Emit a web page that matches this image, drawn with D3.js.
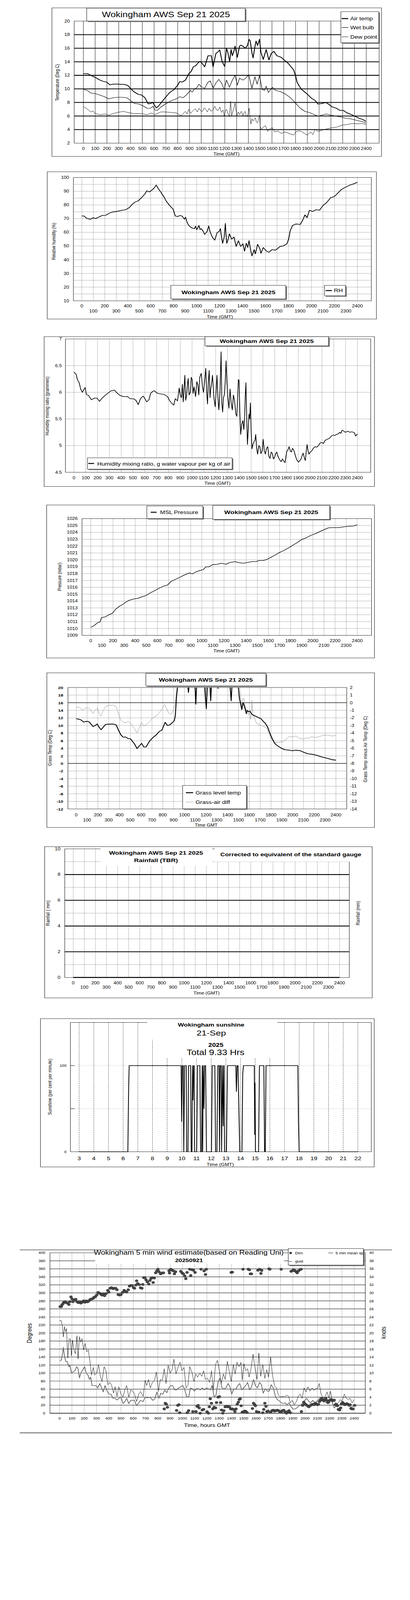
<!DOCTYPE html>
<html><head><meta charset="utf-8">
<script src="https://cdn.jsdelivr.net/npm/d3@7"></script>
<style>html,body{margin:0;padding:0;background:#fff;overflow:hidden}svg{display:block}text{font-family:"Liberation Sans",Arial,Helvetica,sans-serif}</style>
</head><body>
<script>
// ---------------- DATA ----------------
const titleText = "Wokingham AWS Sep 21 2025";
const timeTicks = [0,100,200,300,400,500,600,700,800,900,1000,1100,1200,1300,1400,1500,1600,1700,1800,1900,2000,2100,2200,2300,2400];
const tempTicks = [2,4,6,8,10,12,14,16,18,20];
const rhTicks = [10,20,30,40,50,60,70,80,90,100];
const mixTicks = [4.5,5,5.5,6,6.5,7];
const presTicks = [1009,1010,1011,1012,1013,1014,1015,1016,1017,1018,1019,1020,1021,1022,1023,1024,1025,1026];
const grassTicks = [-12,-10,-8,-6,-4,-2,0,2,4,6,8,10,12,14,16,18,20];
const diffTicks = [-14,-13,-12,-11,-10,-9,-8,-7,-6,-5,-4,-3,-2,-1,0,1,2];
const rainTicks = [0,2,4,6,8,10];
const sunHours = [3,4,5,6,7,8,9,10,11,12,13,14,15,16,17,18,19,20,21,22];
const windDegTicks = [0,20,40,60,80,100,120,140,160,180,200,220,240,260,280,300,320,340,360,380,400];
const knotTicks = [0,2,4,6,8,10,12,14,16,18,20,22,24,26,28,30,32,34,36,38,40];

const airTemp = [[0,12.25],[35,12.25],[63,12.0],[100,11.7],[140,11.3],[170,11.1],[197,11.0],[225,10.6],[255,10.7],[293,10.7],[350,10.65],[378,10.5],[398,10.1],[427,9.6],[465,9.2],[493,9.1],[522,8.7],[550,7.8],[570,7.85],[589,8.0],[618,7.2],[637,7.45],[665,8.07],[694,8.7],[732,9.47],[771,9.93],[800,10.55],[818,11.1],[838,11.0],[866,11.3],[895,12.25],[914,12.56],[933,13.26],[952,13.4],[971,13.8],[990,14.08],[1010,13.7],[1029,13.26],[1058,14.9],[1086,14.9],[1100,13.26],[1124,15.2],[1144,15.5],[1157,15.75],[1176,14.1],[1199,13.3],[1214,16.0],[1226,15.35],[1241,14.03],[1253,15.8],[1264,14.9],[1276,15.5],[1287,16.3],[1306,14.65],[1325,16.3],[1335,16.45],[1354,16.3],[1373,16.0],[1392,16.4],[1406,17.3],[1415,17.1],[1430,15.35],[1440,14.57],[1455,16.2],[1465,17.05],[1478,16.4],[1494,17.3],[1507,15.35],[1526,14.35],[1551,15.8],[1574,14.27],[1593,15.2],[1616,15.54],[1641,14.9],[1679,14.65],[1708,14.2],[1736,13.8],[1765,13.2],[1784,12.8],[1800,11.95],[1813,11.0],[1832,10.4],[1851,9.93],[1899,9.23],[1937,8.6],[1966,8.3],[1991,7.76],[2023,7.85],[2056,8.0],[2080,7.76],[2109,7.37],[2147,7.14],[2176,6.83],[2205,6.83],[2233,6.5],[2262,6.3],[2300,6.0],[2339,5.67],[2377,5.44],[2396,5.2]];
const wetBulb = [[0,9.93],[34,9.78],[63,9.4],[101,9.3],[140,9.1],[178,8.85],[216,8.54],[254,8.7],[293,8.77],[331,8.77],[369,8.7],[398,8.3],[436,7.84],[474,7.76],[503,7.53],[541,7.14],[570,7.14],[589,7.45],[608,6.9],[627,6.83],[656,7.3],[694,7.76],[742,8.23],[790,8.54],[818,8.85],[847,8.7],[876,9.15],[908,9.78],[924,9.54],[943,10.0],[962,10.16],[981,10.7],[1000,10.3],[1029,10.1],[1058,11.0],[1077,11.17],[1100,10.1],[1124,10.86],[1149,11.4],[1172,10.86],[1195,9.93],[1214,11.3],[1239,10.24],[1264,11.3],[1287,12.0],[1306,10.55],[1325,11.6],[1354,11.3],[1379,11.6],[1402,12.1],[1430,10.1],[1455,11.8],[1474,10.7],[1494,11.95],[1517,9.93],[1536,9.78],[1551,10.4],[1570,9.47],[1603,10.24],[1631,9.78],[1669,9.62],[1708,9.3],[1746,8.85],[1775,8.38],[1803,7.84],[1841,7.14],[1880,6.68],[1918,6.52],[1947,6.3],[1966,6.13],[1995,5.98],[2023,6.13],[2061,6.3],[2099,6.13],[2147,5.98],[2195,5.82],[2224,5.67],[2262,5.6],[2300,5.44],[2339,5.28],[2377,5.13],[2396,4.97]];
const dewPoint = [[0,7.37],[25,7.14],[63,6.6],[82,6.75],[101,6.37],[140,6.2],[187,6.3],[216,6.13],[254,6.37],[293,6.55],[340,6.68],[378,6.52],[427,6.37],[484,6.37],[541,6.2],[580,6.45],[608,6.2],[656,6.6],[694,6.6],[751,6.52],[790,6.45],[828,6.06],[866,6.68],[880,6.3],[895,7.0],[910,6.4],[924,6.68],[938,6.9],[952,7.06],[966,6.6],[981,7.14],[995,6.8],[1010,6.68],[1024,7.2],[1038,7.0],[1052,6.6],[1067,7.14],[1082,6.7],[1096,6.83],[1115,7.45],[1130,6.9],[1144,6.83],[1158,7.3],[1172,6.52],[1185,6.9],[1195,6.06],[1205,6.8],[1214,7.0],[1226,6.4],[1239,5.9],[1249,8.2],[1258,6.06],[1268,6.7],[1277,7.14],[1287,7.9],[1302,6.06],[1314,6.6],[1325,6.2],[1340,6.7],[1354,6.06],[1364,6.5],[1373,6.68],[1382,6.0],[1392,5.9],[1400,6.5],[1406,7.14],[1413,5.8],[1421,4.82],[1430,5.6],[1440,5.28],[1450,5.5],[1459,5.75],[1468,5.1],[1478,4.97],[1486,5.6],[1494,6.13],[1500,4.6],[1507,4.04],[1526,4.35],[1545,4.59],[1564,3.73],[1583,4.12],[1603,4.28],[1622,3.66],[1650,3.81],[1679,3.42],[1708,3.66],[1727,3.58],[1756,3.35],[1784,3.2],[1803,3.66],[1822,3.81],[1851,3.73],[1876,3.42],[1899,3.2],[1928,3.66],[1947,3.27],[1966,4.04],[1995,3.73],[2033,3.97],[2071,4.12],[2109,4.28],[2147,4.35],[2195,4.66],[2233,4.74],[2281,4.9],[2329,4.85],[2367,4.9],[2396,4.74]];

const relHum = [[0,72.0],[20,71.9],[39,70.4],[59,69.8],[78,69.6],[98,70.7],[118,70.0],[137,70.7],[177,72.3],[206,72.4],[235,73.8],[265,74.8],[304,75.3],[353,76.1],[383,76.5],[412,78.0],[442,80.7],[461,82.0],[491,83.0],[520,85.3],[549,88.0],[565,90.3],[589,89.5],[608,90.7],[628,92.2],[648,94.5],[667,91.8],[687,89.5],[716,85.7],[736,82.6],[765,79.6],[795,76.9],[814,71.9],[834,71.5],[854,72.3],[873,71.9],[893,69.6],[903,71.1],[918,66.9],[932,65.0],[952,63.5],[966,63.0],[981,62.7],[990,64.5],[1001,61.9],[1020,65.0],[1030,62.0],[1040,62.7],[1055,61.0],[1069,58.5],[1089,60.4],[1105,64.6],[1115,61.0],[1128,58.1],[1140,56.0],[1158,54.3],[1177,59.6],[1197,60.8],[1207,62.7],[1216,57.0],[1226,52.0],[1240,56.6],[1250,66.5],[1256,58.0],[1262,52.0],[1275,55.0],[1285,58.9],[1305,55.0],[1325,56.6],[1344,49.7],[1364,53.9],[1383,49.7],[1403,51.6],[1417,46.2],[1432,52.0],[1445,49.0],[1456,53.9],[1472,46.2],[1482,42.8],[1501,47.4],[1511,44.3],[1531,51.2],[1550,48.1],[1560,44.7],[1580,48.9],[1609,46.2],[1629,45.5],[1658,47.4],[1687,47.0],[1727,49.7],[1756,50.1],[1786,51.6],[1801,55.0],[1815,61.2],[1835,65.0],[1864,66.1],[1903,65.8],[1923,68.8],[1943,72.7],[1962,70.7],[1982,76.1],[2011,75.3],[2041,76.5],[2070,76.1],[2100,79.6],[2129,81.5],[2168,85.3],[2198,86.1],[2227,88.4],[2257,91.0],[2296,93.0],[2335,94.5],[2374,95.6],[2400,96.6]];

const mixRatio = [[0,6.38],[10,6.355],[19,6.335],[29,6.24],[44,6.18],[57,6.06],[71,6.0],[86,6.06],[95,6.09],[105,5.96],[124,5.94],[147,5.86],[172,5.89],[196,5.89],[216,5.83],[238,5.89],[258,5.93],[286,5.98],[315,6.03],[343,6.04],[368,5.98],[391,5.94],[420,5.92],[452,5.92],[477,5.88],[506,5.88],[528,5.84],[544,5.77],[563,5.88],[586,5.93],[601,5.88],[616,5.82],[635,5.86],[649,5.98],[668,6.02],[681,6.03],[706,5.98],[734,5.97],[763,5.96],[792,5.92],[811,5.84],[830,5.79],[845,5.76],[858,5.88],[877,5.84],[891,6.08],[900,5.95],[910,5.9],[918,6.15],[925,5.82],[939,6.32],[946,5.85],[954,5.94],[960,6.12],[967,6.26],[975,5.95],[986,6.0],[993,6.28],[1001,6.24],[1009,5.98],[1017,6.1],[1030,5.92],[1040,6.2],[1049,6.14],[1057,5.95],[1065,6.28],[1078,6.355],[1088,6.1],[1097,6.0],[1106,6.2],[1116,6.45],[1124,6.0],[1131,5.78],[1138,6.2],[1145,6.41],[1152,5.9],[1158,6.06],[1165,6.15],[1173,6.32],[1185,5.9],[1196,5.73],[1203,6.0],[1211,6.32],[1219,5.9],[1227,5.67],[1236,6.0],[1246,6.76],[1252,5.8],[1259,5.63],[1266,5.9],[1274,5.96],[1281,6.2],[1288,6.59],[1295,6.2],[1303,5.9],[1312,5.7],[1322,6.06],[1331,5.8],[1341,5.67],[1350,5.95],[1360,5.84],[1370,5.6],[1379,5.55],[1386,5.9],[1392,6.24],[1398,6.22],[1405,5.6],[1412,5.21],[1420,5.4],[1431,5.47],[1438,5.3],[1444,5.47],[1450,5.9],[1456,6.18],[1462,5.6],[1469,5.02],[1476,5.3],[1482,5.59],[1488,5.5],[1494,5.8],[1500,5.3],[1507,4.94],[1515,5.02],[1526,5.08],[1533,5.1],[1539,5.21],[1547,4.95],[1555,4.84],[1565,5.0],[1574,4.98],[1583,4.85],[1593,4.9],[1602,5.12],[1612,4.9],[1621,4.84],[1631,4.95],[1641,4.98],[1650,4.8],[1660,4.76],[1670,4.88],[1679,4.86],[1689,4.75],[1698,4.78],[1708,4.85],[1717,4.88],[1727,4.8],[1736,4.76],[1746,4.72],[1755,4.7],[1765,4.75],[1774,4.72],[1787,4.68],[1795,4.8],[1803,4.9],[1812,4.92],[1822,4.98],[1832,4.9],[1841,4.88],[1850,4.95],[1860,4.92],[1870,4.85],[1879,4.78],[1890,4.72],[1902,4.69],[1912,4.72],[1921,4.74],[1930,4.8],[1940,4.86],[1950,4.78],[1959,4.72],[1967,4.9],[1974,5.02],[1982,4.9],[1990,4.84],[2000,4.88],[2013,4.9],[2027,4.95],[2041,4.98],[2055,4.97],[2070,5.0],[2084,5.05],[2098,5.06],[2112,5.04],[2127,5.1],[2146,5.12],[2165,5.14],[2180,5.18],[2194,5.2],[2208,5.19],[2223,5.21],[2237,5.22],[2251,5.25],[2260,5.23],[2270,5.29],[2285,5.27],[2299,5.25],[2318,5.27],[2337,5.25],[2352,5.26],[2366,5.25],[2375,5.24],[2385,5.18],[2393,5.2],[2400,5.22]];

const mslPressure = [[0,1010.17],[35,1010.48],[57,1010.8],[82,1010.94],[97,1011.6],[132,1011.7],[162,1012.0],[193,1012.2],[223,1012.8],[264,1013.3],[294,1013.55],[315,1013.85],[345,1014.1],[386,1014.3],[426,1014.4],[457,1014.6],[497,1014.8],[538,1015.2],[579,1015.55],[619,1015.9],[660,1016.2],[690,1016.3],[721,1016.84],[761,1017.15],[802,1017.45],[843,1017.8],[889,1018.1],[914,1017.95],[954,1018.3],[995,1018.5],[1015,1018.6],[1036,1018.98],[1066,1018.98],[1096,1019.3],[1137,1019.35],[1178,1019.5],[1218,1019.35],[1249,1019.6],[1300,1019.75],[1330,1019.6],[1371,1019.5],[1411,1019.6],[1452,1019.75],[1492,1019.75],[1513,1019.9],[1553,1019.9],[1584,1020.05],[1614,1020.3],[1655,1020.65],[1695,1021.04],[1736,1021.35],[1777,1021.7],[1817,1022.1],[1858,1022.5],[1898,1022.95],[1939,1023.2],[1980,1023.55],[2020,1023.8],[2061,1024.1],[2101,1024.4],[2142,1024.67],[2183,1024.7],[2234,1024.7],[2274,1024.8],[2325,1024.9],[2366,1024.92],[2400,1025.1]];

const grassTemp = [[0,11.79],[21,11.65],[42,11.5],[69,10.9],[94,11.1],[119,10.96],[139,10.27],[156,9.71],[177,10.0],[194,10.4],[214,9.44],[231,8.88],[250,9.57],[271,10.27],[302,10.35],[343,10.35],[368,10.18],[389,8.88],[410,7.64],[431,6.95],[458,6.95],[479,6.53],[500,6.53],[520,5.84],[541,5.01],[562,3.9],[583,4.6],[604,5.29],[625,4.32],[645,4.32],[677,5.84],[708,6.8],[739,7.5],[770,8.47],[791,8.74],[822,10.82],[843,10.0],[864,10.13],[885,10.68],[906,11.23],[916,12.6],[926,17.3],[937,20.5],[945,23],[1025,23],[1032,20.2],[1037,18.7],[1042,20.2],[1050,23],[1095,22],[1100,19],[1105,15.6],[1110,19],[1118,23],[1185,22],[1195,17],[1202,14.4],[1208,18],[1215,23],[1235,21],[1243,16.5],[1250,21],[1258,24],[1305,20.5],[1311,19.8],[1317,20.5],[1330,24],[1420,21],[1432,16.5],[1440,21],[1450,24],[1495,21],[1510,17],[1530,14.2],[1542,16],[1551,15.4],[1560,14.5],[1572,13.1],[1580,14.0],[1592,13.6],[1605,13.8],[1613,13.4],[1625,12.9],[1634,12.76],[1655,12.48],[1686,12.06],[1707,11.79],[1728,11.1],[1748,10.54],[1769,9.57],[1790,7.92],[1811,6.53],[1838,5.15],[1863,4.6],[1894,4.04],[1925,3.63],[1967,3.49],[1998,3.35],[2029,3.49],[2071,3.35],[2102,2.94],[2144,2.52],[2186,2.38],[2227,2.1],[2269,1.69],[2311,1.41],[2363,0.99],[2400,0.86]];
const grassAirDiff = [[0,-0.58],[31,-0.65],[62,-1.0],[83,-0.72],[110,-0.65],[135,-1.0],[156,-1.42],[177,-0.93],[194,-0.72],[208,-1.27],[229,-1.76],[250,-1.0],[271,-0.52],[302,-0.33],[343,-0.33],[368,-0.52],[389,-1.42],[410,-2.25],[431,-2.52],[458,-2.66],[479,-2.45],[500,-2.66],[520,-3.07],[541,-3.49],[562,-3.97],[583,-3.35],[604,-2.59],[625,-3.07],[645,-2.93],[677,-2.52],[708,-1.97],[739,-1.76],[770,-1.27],[797,-0.72],[818,-0.24],[833,-0.72],[854,-1.35],[874,-1.55],[895,-1.14],[916,-0.03],[930,1.75],[937,2.2],[950,3],[1170,3],[1185,1.5],[1192,0.3],[1198,1.5],[1210,3],[1500,3],[1520,1.0],[1530,-0.5],[1540,0.5],[1550,0.6],[1560,-0.3],[1572,-1.0],[1590,-1.6],[1603,-1.25],[1613,-2.2],[1620,-1.0],[1624,0.3],[1630,-0.9],[1634,-1.5],[1645,-1.97],[1665,-2.66],[1707,-3.0],[1738,-3.15],[1759,-3.35],[1780,-4.04],[1801,-4.8],[1832,-5.29],[1863,-5.22],[1905,-5.15],[1936,-4.87],[1967,-4.46],[1998,-4.53],[2029,-4.39],[2061,-4.67],[2092,-4.8],[2123,-4.67],[2154,-4.67],[2175,-4.46],[2206,-4.6],[2248,-4.46],[2279,-4.32],[2321,-4.25],[2363,-4.39],[2400,-4.32]];

const rainfall = [[0,0],[100,0],[200,0],[300,0],[400,0],[500,0],[600,0],[700,0],[800,0],[900,0],[1000,0],[1100,0],[1200,0],[1300,0],[1400,0],[1500,0],[1600,0],[1700,0],[1800,0],[1900,0],[2000,0],[2100,0],[2200,0],[2300,0],[2400,0]];

const sunshine = [[3,0],[6.32,0],[6.37,70],[6.41,100],[9.95,100],[9.99,35],[10.04,100],[10.1,100],[10.13,0],[10.19,100],[10.3,100],[10.33,0],[10.42,0],[10.46,100],[10.6,100],[10.64,0],[10.69,0],[10.73,100],[10.76,60],[10.81,100],[10.84,100],[10.87,0],[11.01,0],[11.07,100],[11.23,100],[11.28,0],[11.35,0],[11.39,100],[11.42,0],[11.46,100],[11.51,50],[11.55,100],[11.62,100],[11.68,0],[12.02,0],[12.07,100],[12.25,100],[12.3,0],[12.39,0],[12.45,100],[12.54,100],[12.57,0],[12.61,100],[12.68,100],[12.71,0],[12.77,100],[12.82,30],[12.86,100],[12.88,100],[12.91,0],[13.04,0],[13.11,100],[13.68,100],[13.72,70],[13.77,100],[13.83,100],[13.9,40],[13.95,0],[14.1,0],[14.15,90],[14.2,100],[14.94,100],[14.97,20],[14.99,80],[15.02,0],[15.23,0],[15.29,100],[15.59,100],[15.64,0],[15.69,0],[15.74,100],[17.91,100],[17.95,35],[18.0,0],[22,0]];

const windGust = [[0,23.1],[13,23.1],[21,21.9],[30,19.0],[39,21.6],[47,20.3],[56,21.1],[66,13.7],[77,18.5],[88,18.5],[96,14.3],[105,18.2],[116,15.8],[128,14.8],[141,19.3],[150,13.5],[161,19.1],[171,17.7],[182,18.6],[195,15.8],[208,17.4],[220,15.3],[233,15.8],[246,13.2],[259,9.5],[274,11.4],[285,9.5],[302,10.0],[317,12.1],[332,9.2],[345,7.9],[362,11.6],[377,10.6],[392,7.1],[409,7.7],[424,6.9],[439,5.0],[452,6.6],[467,4.2],[482,6.6],[499,4.75],[516,4.0],[531,5.8],[546,6.9],[563,4.0],[580,5.8],[595,5.5],[610,4.75],[627,2.9],[644,4.75],[659,5.4],[681,4.2],[696,8.2],[709,6.9],[724,8.4],[739,6.3],[756,7.7],[773,8.2],[788,10.3],[805,5.5],[820,8.4],[837,8.2],[852,11.1],[867,7.4],[884,11.9],[901,10.0],[916,10.8],[931,13.5],[948,9.8],[966,11.6],[981,12.7],[996,10.6],[1013,11.4],[1030,6.3],[1045,6.9],[1060,11.6],[1077,10.3],[1094,7.9],[1109,9.8],[1124,9.0],[1141,10.0],[1158,9.2],[1173,10.6],[1188,8.4],[1205,8.7],[1222,7.7],[1237,10.6],[1252,5.8],[1270,12.1],[1285,13.2],[1302,10.6],[1317,7.4],[1334,9.8],[1349,8.4],[1366,12.9],[1381,10.6],[1398,7.9],[1415,12.1],[1430,9.8],[1445,12.7],[1462,11.6],[1477,12.7],[1488,8.2],[1501,12.4],[1516,10.6],[1531,11.1],[1544,9.0],[1559,11.1],[1576,14.7],[1591,11.4],[1608,8.4],[1623,15.0],[1638,9.2],[1655,12.1],[1672,8.7],[1687,10.8],[1702,9.0],[1719,14.0],[1734,9.5],[1751,6.9],[1766,6.3],[1783,4.5],[1800,4.0],[1815,4.2],[1830,4.0],[1848,4.5],[1865,4.2],[1880,2.6],[1895,3.2],[1912,2.1],[1929,2.9],[1944,4.2],[1959,4.75],[1976,3.7],[1991,6.3],[2008,5.3],[2023,6.6],[2040,5.5],[2057,6.3],[2072,5.7],[2087,6.1],[2104,6.3],[2115,7.4],[2130,4.75],[2147,3.7],[2164,4.2],[2179,5.3],[2194,3.7],[2207,5.5],[2222,2.6],[2237,3.2],[2254,2.1],[2271,2.6],[2286,3.4],[2301,2.9],[2319,4.75],[2336,3.7],[2351,3.4],[2366,3.7],[2383,2.6],[2400,3.4]];
const windMean = [[0,13.1],[13,13.2],[24,15.0],[30,16.4],[39,14.3],[49,12.9],[62,12.9],[75,11.6],[84,11.9],[96,10.0],[109,10.3],[124,10.6],[139,11.6],[150,11.1],[161,8.8],[173,10.0],[188,10.8],[203,11.6],[216,10.0],[231,9.5],[242,8.4],[253,9.0],[263,6.9],[278,6.9],[295,6.9],[310,6.3],[327,7.4],[342,6.3],[355,5.3],[370,6.9],[387,5.5],[402,4.75],[418,4.75],[435,3.7],[450,3.7],[467,3.3],[482,3.7],[499,4.0],[516,2.4],[531,2.9],[546,3.7],[563,2.4],[578,3.2],[595,3.2],[610,3.2],[627,1.85],[644,2.6],[659,3.2],[681,2.9],[696,4.0],[713,3.8],[730,4.0],[745,3.7],[760,3.2],[777,3.7],[792,5.3],[809,3.7],[824,5.0],[841,4.75],[856,5.8],[873,5.1],[888,6.2],[905,6.9],[920,6.9],[938,5.8],[953,5.8],[970,6.3],[987,6.6],[1002,6.9],[1017,6.1],[1034,4.2],[1051,4.0],[1066,6.3],[1081,6.1],[1098,5.5],[1115,6.1],[1130,6.1],[1145,5.8],[1162,6.3],[1179,5.8],[1195,6.3],[1212,6.1],[1227,5.8],[1242,6.9],[1259,4.0],[1274,4.5],[1291,7.9],[1306,8.7],[1323,6.3],[1338,6.1],[1355,6.3],[1372,7.4],[1387,6.6],[1402,4.75],[1419,6.1],[1434,5.9],[1452,6.9],[1467,7.4],[1484,5.8],[1499,6.3],[1516,6.9],[1531,7.7],[1548,5.8],[1563,6.6],[1580,8.4],[1595,6.9],[1612,6.3],[1629,7.7],[1644,7.1],[1659,5.0],[1676,6.1],[1693,5.5],[1708,5.5],[1723,7.1],[1741,6.3],[1758,4.2],[1773,3.4],[1788,3.1],[1805,2.6],[1822,2.4],[1837,2.6],[1852,2.1],[1869,2.6],[1886,1.6],[1901,1.05],[1916,1.05],[1933,1.3],[1950,1.85],[1965,2.1],[1980,2.4],[1997,3.2],[2014,3.7],[2030,2.9],[2045,2.6],[2062,3.2],[2079,2.6],[2094,2.9],[2109,3.4],[2126,4.0],[2143,3.7],[2158,2.9],[2173,2.6],[2190,2.6],[2207,3.4],[2222,2.6],[2237,1.3],[2254,1.85],[2271,2.1],[2286,2.1],[2301,2.6],[2319,2.1],[2336,2.4],[2351,2.2],[2366,1.6],[2383,1.6],[2400,1.85]];
const windDirn = [[4,265.6],[13,265.6],[19,270],[28,273.5],[36,277],[43,278],[54,275.6],[64,274.5],[75,271],[83,278],[92,290],[101,285],[109,278],[120,282.5],[131,284],[141,278],[152,275.6],[163,278],[173,274.5],[184,277],[195,280],[206,276.7],[216,280],[227,277.7],[238,280],[248,283.5],[259,284.6],[272,286],[280,289],[291,290.4],[302,294.6],[313,301],[323,299.4],[336,296.7],[345,294.6],[355,297.8],[366,293],[379,298.3],[392,306.2],[400,302],[411,311.5],[422,313],[435,310.5],[445,311.5],[456,311.5],[467,307.8],[477,295.7],[488,294.6],[499,295.7],[512,301],[525,306.2],[535,303.6],[546,302],[559,307.8],[569,316.8],[580,318.4],[591,318.4],[602,313],[610,311.5],[621,319.4],[627,330],[636,323],[649,320.5],[659,312.6],[670,311.5],[677,321],[685,338],[694,338],[704,332.6],[715,327.4],[726,322],[736,331],[745,336.3],[756,338],[762,325.8],[771,337],[782,350],[792,354.8],[801,359],[809,352.7],[822,347.4],[833,349.5],[846,350],[852,10.6],[861,24.8],[869,22.2],[878,14.8],[891,355.3],[895,349.5],[905,359],[916,356.4],[927,354.8],[935,347.4],[944,352.7],[953,6.9],[963,19.5],[972,21.1],[978,1.1],[987,353.7],[998,349.5],[1008,347.4],[1019,342],[1028,335.3],[1038,351],[1040,1.1],[1051,6.3],[1060,359],[1068,343.2],[1077,358],[1085,4.2],[1090,356.4],[1103,351],[1111,4.2],[1120,16.9],[1128,19.5],[1137,13.2],[1145,0],[1152,359],[1162,7.9],[1173,9.5],[1177,354.8],[1188,345.8],[1195,359],[1201,3.7],[1212,0],[1220,15.8],[1227,35.9],[1237,24.8],[1248,10.6],[1259,14.8],[1270,13.2],[1278,26.4],[1291,40.1],[1302,41.2],[1312,26.4],[1319,7.9],[1329,0],[1338,6.3],[1349,15.8],[1359,16.9],[1372,15.8],[1383,15.8],[1394,10.6],[1398,351],[1407,351.6],[1407,10.6],[1415,9.5],[1428,4.2],[1437,10.6],[1447,22.2],[1456,27.5],[1464,34.3],[1471,35.9],[1479,18.5],[1488,2.6],[1494,359],[1501,4.2],[1509,5.3],[1518,4.2],[1526,1.6],[1537,359],[1546,357.5],[1554,347.4],[1563,347.4],[1571,11.6],[1580,24.8],[1589,21.1],[1595,18.5],[1604,4.2],[1616,356.4],[1623,2.6],[1629,359],[1640,348.5],[1646,355.9],[1655,1.1],[1663,9.5],[1672,24.8],[1681,16.9],[1689,4.2],[1698,5.3],[1706,360],[1713,359],[1719,2.6],[1730,6.3],[1741,7.4],[1751,5.3],[1762,6.3],[1773,7.4],[1783,6.3],[1794,4.2],[1805,359],[1805,2.6],[1815,6.3],[1826,7.4],[1837,3.2],[1848,0],[1858,3.7],[1869,6.3],[1880,1.1],[1886,353.7],[1897,355.3],[1908,358],[1918,354.8],[1929,352.7],[1935,350],[1946,354.8],[1959,358],[1967,359],[1970,4.2],[1980,19.5],[1989,27.5],[1997,23.8],[2008,21.1],[2019,18.5],[2030,15.8],[2040,18.5],[2051,21.1],[2062,22.2],[2072,21.1],[2083,24.8],[2092,22.2],[2100,21.1],[2109,22.2],[2117,29],[2126,32.7],[2135,37],[2143,32.7],[2152,30.6],[2160,34.3],[2169,37],[2177,31.7],[2186,26.4],[2194,29],[2203,32.7],[2212,34.3],[2220,32.7],[2229,31.7],[2237,32.7],[2246,21.1],[2254,22.2],[2263,18.5],[2271,9.5],[2280,7.9],[2289,13.2],[2297,23.8],[2306,26.4],[2314,23.8],[2323,21.1],[2331,22.2],[2340,23.8],[2349,22.2],[2357,20],[2366,21.1],[2374,11.6],[2383,10.6],[2391,10.6],[2404,19.5]];

// ---------------- SETUP ----------------
// The drawing is laid out on a 1050 x 5085 canvas; if the window is shorter, the
// viewBox fits the whole canvas into the visible window.
const PAGE_W = 1050, PAGE_H = 5085;
const VIEW_H = Math.min(PAGE_H, window.innerHeight || PAGE_H);
const svg = d3.select('body').append('svg')
  .attr('width', PAGE_W).attr('height', VIEW_H)
  .attr('viewBox', `0 0 ${PAGE_W} ${PAGE_H}`).attr('preserveAspectRatio', 'none');
svg.append('rect').attr('width',PAGE_W).attr('height',PAGE_H).attr('fill','#fff');
let clipId = 0;
function panel(){ return svg.append('g'); }
function ln(g,x1,y1,x2,y2,w,c,dash){const l=g.append('line').attr('x1',x1).attr('y1',y1).attr('x2',x2).attr('y2',y2).attr('stroke',c||'#000').attr('stroke-width',w||1);if(dash)l.attr('stroke-dasharray',dash);return l;}
function box(g,x,y,w,h,o){o=o||{};if(o.shadow)g.append('rect').attr('x',x+3).attr('y',y+3).attr('width',w).attr('height',h).attr('fill','#7a7a7a');g.append('rect').attr('x',x).attr('y',y).attr('width',w).attr('height',h).attr('fill',o.fill===undefined?'#fff':o.fill).attr('stroke',o.stroke===undefined?'#000':o.stroke).attr('stroke-width',o.sw||1);}
function tx(g,x,y,s,o){o=o||{};const t=g.append('text').attr('x',x).attr('y',y).text(s).attr('font-size',o.size||12.5).attr('text-anchor',o.anchor||'start').attr('fill',o.fill||'#000');if(o.bold)t.attr('font-weight','bold');if(o.rot)t.attr('transform',`rotate(-90,${x},${y})`);if(o.clip)t.attr('clip-path',`url(#${o.clip})`);return t;}
function clip(g,x,y,w,h){const id='cp'+(clipId++);svg.append('clipPath').attr('id',id).attr('clipPathUnits','userSpaceOnUse').append('rect').attr('x',x).attr('y',y).attr('width',w).attr('height',h);return id;}
function series(g,data,xs,ys,o){o=o||{};const p=g.append('path').attr('d',d3.line().x(d=>xs(d[0])).y(d=>ys(d[1]))(data)).attr('fill','none').attr('stroke',o.c||'#000').attr('stroke-width',o.w||1).attr('stroke-linejoin','round');if(o.clip)p.attr('clip-path',`url(#${o.clip})`);return p;}
const DOT='1,2';

// ---------------- PANEL 1: Temperature ----------------
{
 const g=panel();
 box(g,133,25,844,472,{fill:'none'});
 const L=190,R=971,T=67,B=455;
 const x=d3.scaleLinear().domain([0,2400]).range([213.5,938]);
 const y=d3.scaleLinear().domain([2,20]).range([B,T]);
 timeTicks.forEach(t=>ln(g,x(t),T,x(t),B,1));
 tempTicks.forEach(v=>{if(v>2&&v<20)ln(g,L,y(v),R,y(v),2.5);tx(g,L-11,y(v)+4.5,v,{anchor:'end'});});
 box(g,L,T,R-L,B-T,{fill:'none'});
 timeTicks.forEach(t=>tx(g,x(t),477,t,{anchor:'middle'}));
 tx(g,580,494.5,'Time (GMT)',{anchor:'middle'});
 tx(g,151.5,262,'Temperature (Deg C)',{anchor:'middle',rot:true});
 const cp=clip(g,L,T,R-L,B-T);
 series(g,dewPoint,x,y,{w:1,clip:cp});
 series(g,wetBulb,x,y,{w:1.3,clip:cp});
 series(g,airTemp,x,y,{w:2.2,clip:cp});
 box(g,222,26,406,41,{shadow:true});
 tx(g,425,54.5,titleText,{size:24,anchor:'middle'});
 box(g,873,37,97,99,{shadow:true});
 const lg=[['Air temp',59,3],['Wet bulb',87.5,1.5],['Dew point',117,1]];
 lg.forEach(d=>{ln(g,875,d[1],892,d[1],d[2]);tx(g,897,d[1]+5.5,d[0],{size:15.5});});
}

// ---------------- PANEL 2: RH ----------------
{
 const g=panel();
 box(g,121,546,843,468,{fill:'none'});
 const L=188,R=951,T=564.3,B=956;
 const x=d3.scaleLinear().domain([0,2400]).range([209.6,915.3]);
 const y=d3.scaleLinear().domain([10,100]).range([B,T]);
 timeTicks.forEach(t=>ln(g,x(t),T,x(t),B,1,'#000',DOT));
 for(let v=15;v<100;v+=5)ln(g,L,y(v),R,y(v),1,'#000',DOT);
 box(g,L,T,R-L,B-T,{fill:'none'});
 rhTicks.forEach(v=>tx(g,L-11,y(v)+4.5,v,{anchor:'end'}));
 timeTicks.forEach((t,i)=>tx(g,x(t),i%2===0?977:993,t,{anchor:'middle'}));
 tx(g,563,1011.5,'Time (GMT)',{anchor:'middle'});
 tx(g,142,767,'Relative humidity (%)',{anchor:'middle',rot:true});
 series(g,relHum,x,y,{w:2});
 box(g,437.6,906.7,294.3,43.3,{shadow:true});
 tx(g,585,935,titleText,{size:17,bold:true,anchor:'middle'});
 box(g,831,907,54,33,{shadow:true});
 ln(g,834,923.5,850,923.5,3);
 tx(g,855,929,'RH',{size:16});
}

// ---------------- PANEL 3: Mixing ratio ----------------
{
 const g=panel();
 box(g,113,1070,846,476,{fill:'none'});
 const L=167.5,R=949.4,T=1077.3,B=1501;
 const x=d3.scaleLinear().domain([0,2400]).range([189.4,915.3]);
 const y=d3.scaleLinear().domain([4.5,7]).range([B,T]);
 timeTicks.forEach(t=>ln(g,x(t),T,x(t),B,1,'#000',DOT));
 [5,5.5,6,6.5].forEach(v=>ln(g,L,y(v),R,y(v),1,'#000',DOT));
 box(g,L,T,R-L,B-T,{fill:'none'});
 mixTicks.forEach(v=>tx(g,L-9,y(v)+4.5,v,{anchor:'end'}));
 timeTicks.forEach(t=>tx(g,x(t),1523,t,{anchor:'middle'}));
 tx(g,557,1541,'Time (GMT)',{anchor:'middle'});
 tx(g,125,1290,'Humidity mixing ratio (grammes)',{size:13,anchor:'middle',rot:true});
 series(g,mixRatio,x,y,{w:1.8});
 box(g,525,1070,316.5,29,{shadow:true});
 tx(g,683,1089.5,titleText,{size:17,bold:true,anchor:'middle'});
 box(g,224,1455,370.5,36,{shadow:true});
 ln(g,226,1473,241,1473,3);
 const cp=clip(g,224,1455,370,36);
 tx(g,249,1479.5,'Humidity mixing ratio, g water vapour per kg of air',{size:15.5,clip:cp});
}

// ---------------- PANEL 4: Pressure ----------------
{
 const g=panel();
 box(g,119.5,1605,839.5,486,{fill:'none'});
 const L=210,R=951.5,T=1648.3,B=2019.3;
 const x=d3.scaleLinear().domain([0,2400]).range([232.5,915]);
 const y=d3.scaleLinear().domain([1009,1026]).range([B,T]);
 timeTicks.forEach(t=>ln(g,x(t),T,x(t),B,1,'#000',DOT));
 presTicks.forEach(v=>{if(v>1009&&v<1026)ln(g,L,y(v),R,y(v),1,'#000',DOT);});
 box(g,L,T,R-L,B-T,{fill:'none'});
 presTicks.forEach(v=>tx(g,L-11,y(v)+4.5,v,{anchor:'end'}));
 timeTicks.forEach((t,i)=>tx(g,x(t),i%2===0?2040.5:2055.5,t,{anchor:'middle'}));
 tx(g,580,2073,'Time (GMT)',{anchor:'middle'});
 tx(g,157.5,1833,'Pressure (mbar)',{anchor:'middle',rot:true});
 series(g,mslPressure,x,y,{w:1.6});
 box(g,376,1608,143.5,40,{shadow:true});
 ln(g,386,1628,401,1628,3);
 tx(g,410,1633.5,'MSL Pressure',{size:15.5});
 box(g,545,1606,299.4,44.7,{shadow:true});
 tx(g,694.7,1634,titleText,{size:17,bold:true,anchor:'middle'});
}

// ---------------- PANEL 5: Grass temp ----------------
{
 const g=panel();
 box(g,120,2138.4,839,491.3,{fill:'none'});
 const L=174,R=888,T=2185,B=2571;
 const x=d3.scaleLinear().domain([0,2400]).range([195.2,860.3]);
 const y=d3.scaleLinear().domain([-12,20]).range([B,T]);
 const y2=d3.scaleLinear().domain([-14,2]).range([B,T]);
 timeTicks.forEach(t=>ln(g,x(t),T,x(t),B,1,'#000',DOT));
 grassTicks.forEach(v=>{if(v>-12&&v<20){if(v===16||v===0)ln(g,L,y(v),R,y(v),1.3);else ln(g,L,y(v),R,y(v),1,'#000',DOT);}});
 box(g,L,T,R-L,B-T,{fill:'none'});
 grassTicks.forEach(v=>tx(g,L-12,y(v)+4.5,v,{anchor:'end',bold:true,size:12}));
 diffTicks.forEach(v=>tx(g,R+8,y2(v)+4.5,v,{size:12.5}));
 timeTicks.forEach((t,i)=>tx(g,x(t),i%2===0?2595:2610.5,t,{anchor:'middle'}));
 tx(g,528,2627.5,'Time GMT',{anchor:'middle'});
 tx(g,132.5,2377,'Grass Temp (Deg C)',{anchor:'middle',rot:true});
 tx(g,940,2380.7,'Grass Temp minus Air Temp (Deg C)',{size:13,anchor:'middle',rot:true});
 const cp=clip(g,L,T,R-L,B-T);
 series(g,grassAirDiff,x,y2,{w:1,c:'#8c8c8c',clip:cp});
 series(g,grassTemp,x,y,{w:2.3,clip:cp});
 box(g,373.5,2139.8,307.5,40.2,{shadow:true});
 tx(g,527,2166,titleText,{size:17,bold:true,anchor:'middle'});
 box(g,467.7,2496.4,163.5,74.1,{shadow:true});
 ln(g,476,2519.3,494.6,2519.3,3);
 tx(g,500.7,2525,'Grass level temp',{size:15.5});
 ln(g,476,2549,494.6,2549,1,'#8c8c8c');
 tx(g,500.7,2554.5,'Grass-air diff',{size:15.5});
}

// ---------------- PANEL 6: Rainfall ----------------
{
 const g=panel();
 box(g,114.4,2690.7,838.8,480.9,{fill:'none'});
 const L=165.8,R=894.6,T=2697.7,B=3106.5;
 const x=d3.scaleLinear().domain([0,2400]).range([187.5,869.5]);
 const y=d3.scaleLinear().domain([0,10]).range([B,T]);
 timeTicks.forEach(t=>ln(g,x(t),T,x(t),B,1,'#000',DOT));
 [1,3,5,7,9].forEach(v=>ln(g,L,y(v),R,y(v),1,'#000',DOT));
 [2,4,6,8].forEach(v=>ln(g,L,y(v),R,y(v),2.6));
 box(g,L,T,R-L,B-T,{fill:'none'});
 rainTicks.forEach(v=>tx(g,L-11,y(v)+4.5,v,{anchor:'end',size:13}));
 timeTicks.forEach((t,i)=>tx(g,x(t),i%2===0?3128:3142.5,t,{anchor:'middle'}));
 tx(g,529,3160.5,'Time (GMT)',{anchor:'middle'});
 tx(g,127.5,2901.7,'Rainfall ( mm)',{size:13,anchor:'middle',rot:true});
 tx(g,921,2901.7,'Rainfall (mm)',{size:13,anchor:'middle',rot:true});
 series(g,rainfall,x,y,{w:3});
 box(g,257.5,2692.5,285.7,59.2,{stroke:'none'});
 box(g,550,2692.5,400,45.8,{stroke:'none'});
 tx(g,399.5,2716,titleText,{size:17,bold:true,anchor:'middle'});
 tx(g,399.5,2739.5,'Rainfall (TBR)',{size:17,bold:true,anchor:'middle'});
 tx(g,744.8,2721.7,'Corrected to equivalent of the standard gauge',{size:16.5,bold:true,anchor:'middle'});
}

// ---------------- PANEL 7: Sunshine ----------------
{
 const g=panel();
 box(g,103.6,3237.5,854.7,471.1,{fill:'none'});
 const L=180.3,R=950.9,T=3249.7,B=3660.5;
 const x=d3.scaleLinear().domain([3,22]).range([202.7,916.5]);
 const y=d3.scaleLinear().domain([0,150]).range([B,T]);
 sunHours.forEach(h=>ln(g,x(h),T,x(h),B,1,'#000','3,3'));
 [50,100].forEach(v=>{ln(g,L,y(v),R,y(v),1,'#9a9a9a',DOT);ln(g,L,y(v),L+11,y(v),1);});
 box(g,L,T,R-L,B-T,{fill:'none'});
 [0,100].forEach(v=>tx(g,L-10,y(v)+4,v,{anchor:'end',size:10.5}));
 sunHours.forEach(h=>tx(g,x(h),3687,h,{anchor:'middle',size:16}));
 tx(g,564,3705.5,'Time (GMT)',{anchor:'middle',size:13});
 tx(g,132.5,3454,'Sunshine (per cent per minute)',{size:13,anchor:'middle',rot:true});
 box(g,377,3248.5,333,56.5,{stroke:'none'});
 box(g,410,3305,290,57,{stroke:'none'});
 series(g,sunshine,x,y,{w:2});
 tx(g,540.6,3262.3,'Wokingham sunshine',{size:16.5,bold:true,anchor:'middle'});
 tx(g,541,3291,'21-Sep',{size:23.4,anchor:'middle'});
 tx(g,552.8,3326.5,'2025',{size:17.3,bold:true,anchor:'middle'});
 tx(g,552,3353.8,'Total 9.33 Hrs',{size:24,anchor:'middle'});
}

// ---------------- PANEL 8: Wind ----------------
{
 const g=panel();
 ln(g,50.5,3972.4,1004,3972.4,1.3);
 ln(g,50.5,4553.8,1004,4553.8,1.3);
 const L=127.9,R=935.4,T=3981.5,B=4491.3;
 const x=d3.scaleLinear().domain([0,2400]).range([152.8,907.1]);
 const y=d3.scaleLinear().domain([0,400]).range([B,T]);
 const yk=d3.scaleLinear().domain([0,40]).range([B,T]);
 timeTicks.forEach(t=>ln(g,x(t),T,x(t),B,1,'#000',DOT));
 windDegTicks.forEach(v=>{if(v>0&&v<400)ln(g,L,y(v),R,y(v),1.2);});
 box(g,L,T,R-L,B-T,{fill:'none'});
 ln(g,L,B,R,B,1.6);
 windDegTicks.forEach(v=>tx(g,L-12,y(v)+4,v,{anchor:'end',size:10.5}));
 knotTicks.forEach(v=>tx(g,R+10,yk(v)+4,v,{size:10.5}));
 timeTicks.forEach(t=>tx(g,x(t),4512,t,{anchor:'middle',size:10.5}));
 tx(g,530.3,4535,'Time, hours GMT',{anchor:'middle',size:15.3});
 tx(g,81.5,4237,'Degrees',{anchor:'middle',size:16.6,rot:true});
 tx(g,988.5,4235.5,'knots',{anchor:'middle',size:16.3,rot:true});
 box(g,243.6,3973.5,483.4,43.5,{stroke:'none'});
 series(g,windGust,x,yk,{w:1,c:'#000'});
 series(g,windMean,x,yk,{w:2,c:'#6a6a6a'});
 g.selectAll('circle.dirn').data(windDirn).enter().append('circle').attr('class','dirn')
  .attr('cx',d=>x(d[0])).attr('cy',d=>y(d[1])).attr('r',3.8).attr('fill','#4a4a4a').attr('stroke','#1a1a1a').attr('stroke-width',0.8);
 tx(g,483.5,3988,'Wokingham 5 min wind estimate(based on Reading Uni)',{size:19.5,anchor:'middle'});
 tx(g,484,4010.7,'20250921',{size:16,bold:true,anchor:'middle'});
 box(g,738.2,3968,192.5,52.8,{shadow:true});
 g.append('circle').attr('cx',744.3).attr('cy',3982.2).attr('r',3).attr('fill','#4a4a4a').attr('stroke','#1a1a1a');
 tx(g,755.7,3986,'Dirn',{size:11});
 ln(g,841,3982,853,3982,2,'#6a6a6a');
 const cp=clip(g,738.2,3968,192,52.8);
 tx(g,859.3,3986,'5 min mean speed',{size:11,clip:cp});
 ln(g,740,4009,748,4009,1);
 tx(g,755.7,4013,'gust',{size:11});
}
</script>
</body></html>
